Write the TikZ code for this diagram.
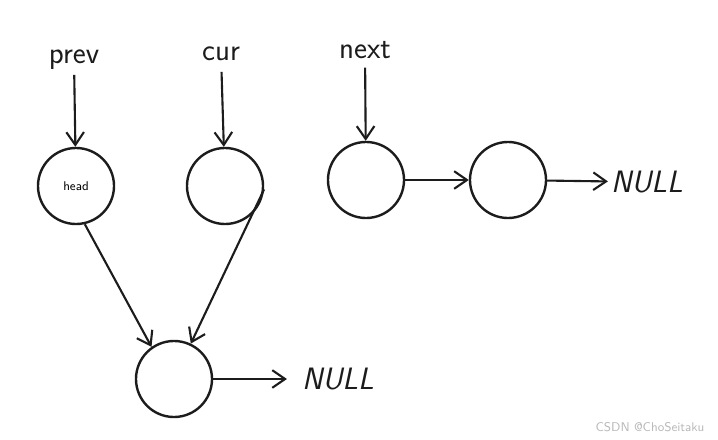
\documentclass[tikz,border=0pt]{standalone}
\usetikzlibrary{arrows.meta,positioning}
\definecolor{ink}{RGB}{28,28,28}
\definecolor{wmgray}{RGB}{185,185,185}
\tikzset{
  lnode/.style={circle,draw=ink,line width=1.7pt,minimum size=1.9cm,inner sep=0pt,
    font=\sffamily\small},
  ptr/.style={-{Straight Barb[length=3.2mm,width=4.4mm]},line width=1.5pt,ink},
  tag/.style={font=\fontsize{22}{24}\selectfont\sffamily,text=ink},
  nul/.style={font=\fontsize{22}{24}\selectfont\sffamily\itshape,text=ink,inner sep=2pt},
}
\begin{document}
\begin{tikzpicture}[x=0.025cm,y=-0.025cm]
\useasboundingbox (0,0) rectangle (718,440);
% list nodes
\node[lnode] (head) at (76,186) {head};
\node[lnode] (cur) at (225,186) {};
\node[lnode] (nxt) at (366,180) {};
\node[lnode] (last) at (508,180) {};
\node[lnode] (bot) at (174,379) {};
% pointer names
\node[tag] (prevlbl) at (74,60) {prev};
\node[tag] (curlbl) at (221,54) {cur};
\node[tag] (nextlbl) at (365,50) {next};
\node[nul] (null1) at (647,182) {NULL};
\node[nul] (null2) at (338,379) {NULL};
\draw[ptr] (prevlbl) -- (head);
\draw[ptr,shorten <=1.5mm] (curlbl) -- (cur);
\draw[ptr,shorten <=1mm] (nextlbl) -- (nxt);
\draw[ptr] (nxt) -- (last);
\draw[ptr] (last) -- (null1);
\draw[ptr,shorten >=3mm] (bot) -- (null2);
\draw[ptr] (head.-77) -- (bot.125);
\draw[ptr] (cur.-5) -- (bot);
\node[font=\fontsize{9}{10}\selectfont\sffamily,text=wmgray] (wm) at (650,427) {CSDN @ChoSeitaku};
\end{tikzpicture}
\end{document}
